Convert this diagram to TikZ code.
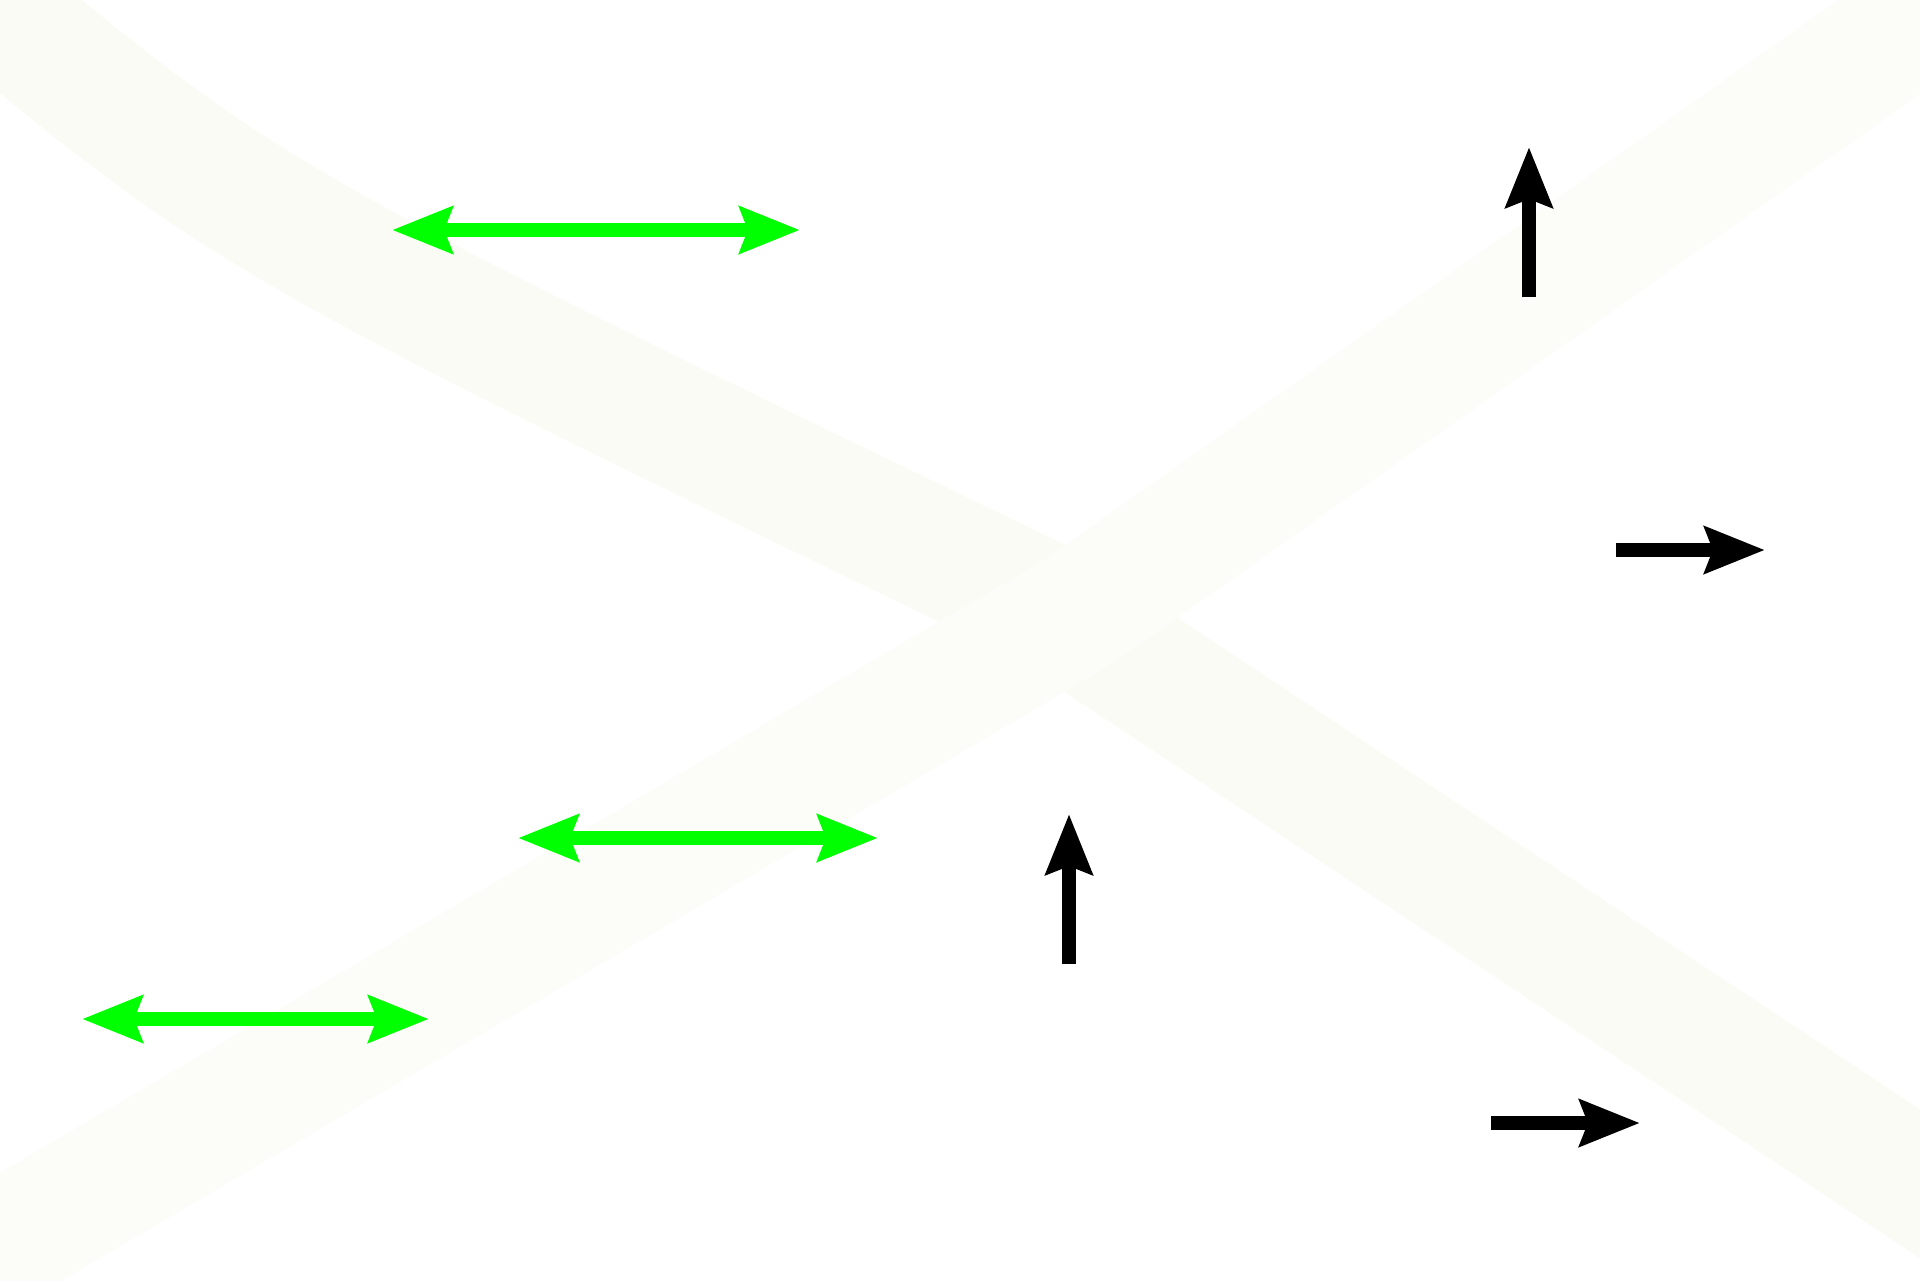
\documentclass[tikz,border=0pt]{standalone}
\usepackage{xcolor}
\usetikzlibrary{arrows.meta}
\definecolor{bandA}{RGB}{251,251,246}
\definecolor{bandB}{RGB}{252,252,248}
\definecolor{vivid}{RGB}{0,255,0}

\begin{document}
\begin{tikzpicture}[x=0.5pt, y=-0.5pt,
    band/.style = {line width=62pt, line cap=butt, line join=round},
    twoway/.style = {draw=vivid, line width=7pt,
      {Stealth[length=30pt, width=23pt, inset=4pt]}-{Stealth[length=30pt, width=23pt, inset=4pt]}},
    oneway/.style = {draw=black, line width=7pt,
      -{Stealth[length=30pt, width=23pt, inset=4pt]}}
    ]
    \useasboundingbox (0,0) rectangle (1920,1280);
    \fill[white] (0,0) rectangle (1920,1280);
    % faint crossing bands
    \begin{scope}
      \clip (0,0) rectangle (1920,1280);
      \draw[band, bandA] (-40,-20) .. controls (250,220) .. (1041,602) -- (1990,1230);
      \draw[band, bandB] (-60,1280) -- (1078,612) -- (1960,-10);
    \end{scope}
    % double arrows
    \coordinate (g1l) at (392,230);  \coordinate (g1r) at (800,230);
    \coordinate (g2l) at (518,838);  \coordinate (g2r) at (878,838);
    \coordinate (g3l) at (82,1019);  \coordinate (g3r) at (429,1019);
    \draw[twoway] (g1l) -- (g1r);
    \draw[twoway] (g2l) -- (g2r);
    \draw[twoway] (g3l) -- (g3r);
    % single arrows
    \coordinate (u1a) at (1529,297); \coordinate (u1b) at (1529,147);
    \coordinate (u2a) at (1069,964); \coordinate (u2b) at (1069,814);
    \coordinate (r1a) at (1616,550); \coordinate (r1b) at (1765,550);
    \coordinate (r2a) at (1491,1123); \coordinate (r2b) at (1640,1123);
    \draw[oneway] (u1a) -- (u1b);
    \draw[oneway] (u2a) -- (u2b);
    \draw[oneway] (r1a) -- (r1b);
    \draw[oneway] (r2a) -- (r2b);
\end{tikzpicture}
\end{document}
